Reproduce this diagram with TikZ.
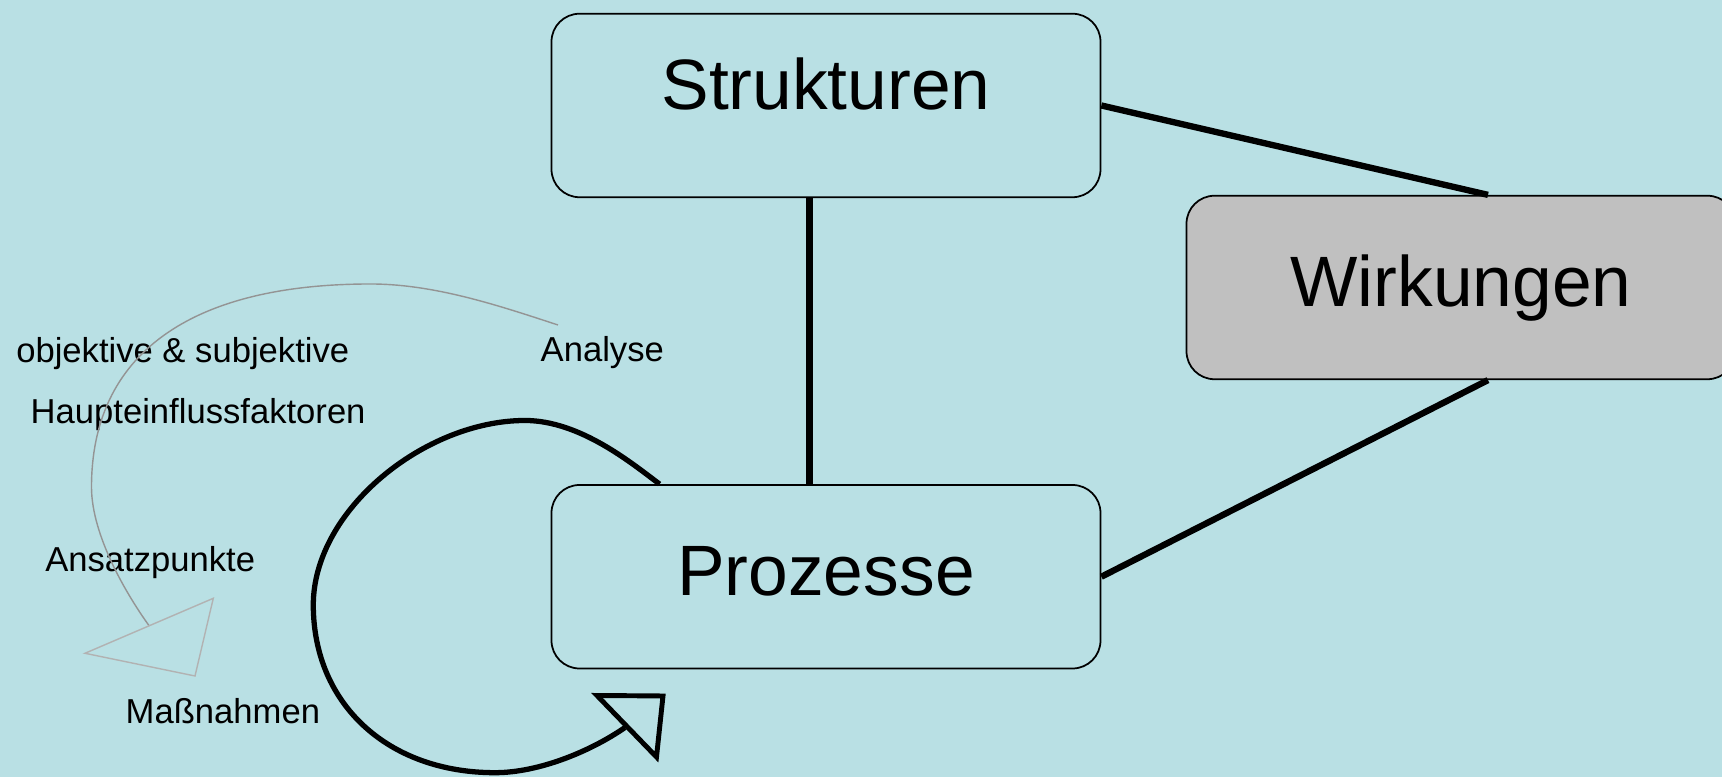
\documentclass[tikz,border=0pt]{standalone}
\usepackage{fontspec}
\setmainfont{Liberation Sans}
\usetikzlibrary{positioning}

\definecolor{slidebg}{RGB}{185,224,228}
\definecolor{effectgray}{RGB}{192,192,192}

\begin{document}
\begin{tikzpicture}[
  node distance    = 2.86cm,
  %--- style definitions ---
  block/.style     = {rectangle, rounded corners=0.28cm, draw=black, line width=0.5pt,
                      fill=#1, minimum width=5.49cm, minimum height=1.835cm,
                      inner sep=0pt, text height=15pt,
                      font=\fontsize{20.3}{24}\selectfont},
  block/.default   = slidebg,
  link/.style      = {line width=1.8pt, color=black},
  steplabel/.style = {anchor=base west, inner sep=0pt,
                      font=\fontsize{9.85}{12}\selectfont},
  cyclearc/.style  = {line width=0.4pt, color=black!42},
  cyclehead/.style = {line width=0.4pt, draw=black!30, line join=miter},
  loopline/.style  = {line width=1.5pt, color=black},
  loophead/.style  = {line width=1.4pt, draw=black, fill=slidebg, line join=miter},
]

%% ── BACKGROUND ─────────────────────────────────────────────────────────────
\fill[slidebg] (0,0) rectangle (17.22,7.77);
\useasboundingbox (0,0) rectangle (17.22,7.77);

%% ── BOXES ──────────────────────────────────────────────────────────────────
\node[block, text depth=13pt] (strukt) at (8.26,6.715) {Strukturen};
\node[block, text depth=4.6pt, below=of strukt] (proz) {Prozesse};
\node[block=effectgray, text depth=4.2pt] (wirk) at (14.61,4.895) {Wirkungen};

%% ── CONNECTIONS ────────────────────────────────────────────────────────────
\draw[link] ([xshift=-0.165cm]strukt.south) -- ([xshift=-0.165cm]proz.north);
\draw[link] (strukt.east) -- ([xshift=0.27cm]wirk.north);
\draw[link] (proz.east)   -- ([xshift=0.27cm]wirk.south);

%% ── CYCLE LABELS ───────────────────────────────────────────────────────────
\node[steplabel] (analyse) at (5.40,4.153)  {Analyse};
\node[steplabel] (faktor1) at (0.156,4.143) {objektive \& subjektive};
\node[steplabel] (faktor2) at (0.30,3.53)   {Haupteinflussfaktoren};
\node[steplabel] (ansatz)  at (0.446,2.053) {Ansatzpunkte};
\node[steplabel] (massn)   at (1.25,0.53)   {Maßnahmen};

%% ── GREY CYCLE ARROW ───────────────────────────────────────────────────────
\coordinate (cycstart) at (5.58,4.52);
\coordinate (cycend)   at (1.493,1.51);
\draw[cyclearc] (cycstart) .. controls (5.01,4.706) and (4.355,4.93) .. (3.705,4.93)
                .. controls (1.89,4.93) and (0.915,4.22) .. (0.915,2.90)
                .. controls (0.915,2.40) and (1.29,1.79) .. (cycend);
\draw[cyclehead] (2.133,1.787) -- (1.95,1.01) -- (0.85,1.237) -- cycle;

%% ── PROCESS LOOP ───────────────────────────────────────────────────────────
\coordinate (loopend) at (6.25,0.495);
\draw[loopline] ([xshift=1.09cm]proz.north west)
                .. controls (6.318,3.137) and (5.80,3.565) .. (5.25,3.565)
                .. controls (4.25,3.565) and (3.133,2.67) .. (3.133,1.72)
                .. controls (3.133,0.73) and (3.878,0.043) .. (4.95,0.043)
                .. controls (5.40,0.043) and (5.922,0.267) .. (loopend);
\draw[loophead] (5.97,0.815) -- (6.63,0.81) -- (6.565,0.20) -- cycle;

\end{tikzpicture}
\end{document}
